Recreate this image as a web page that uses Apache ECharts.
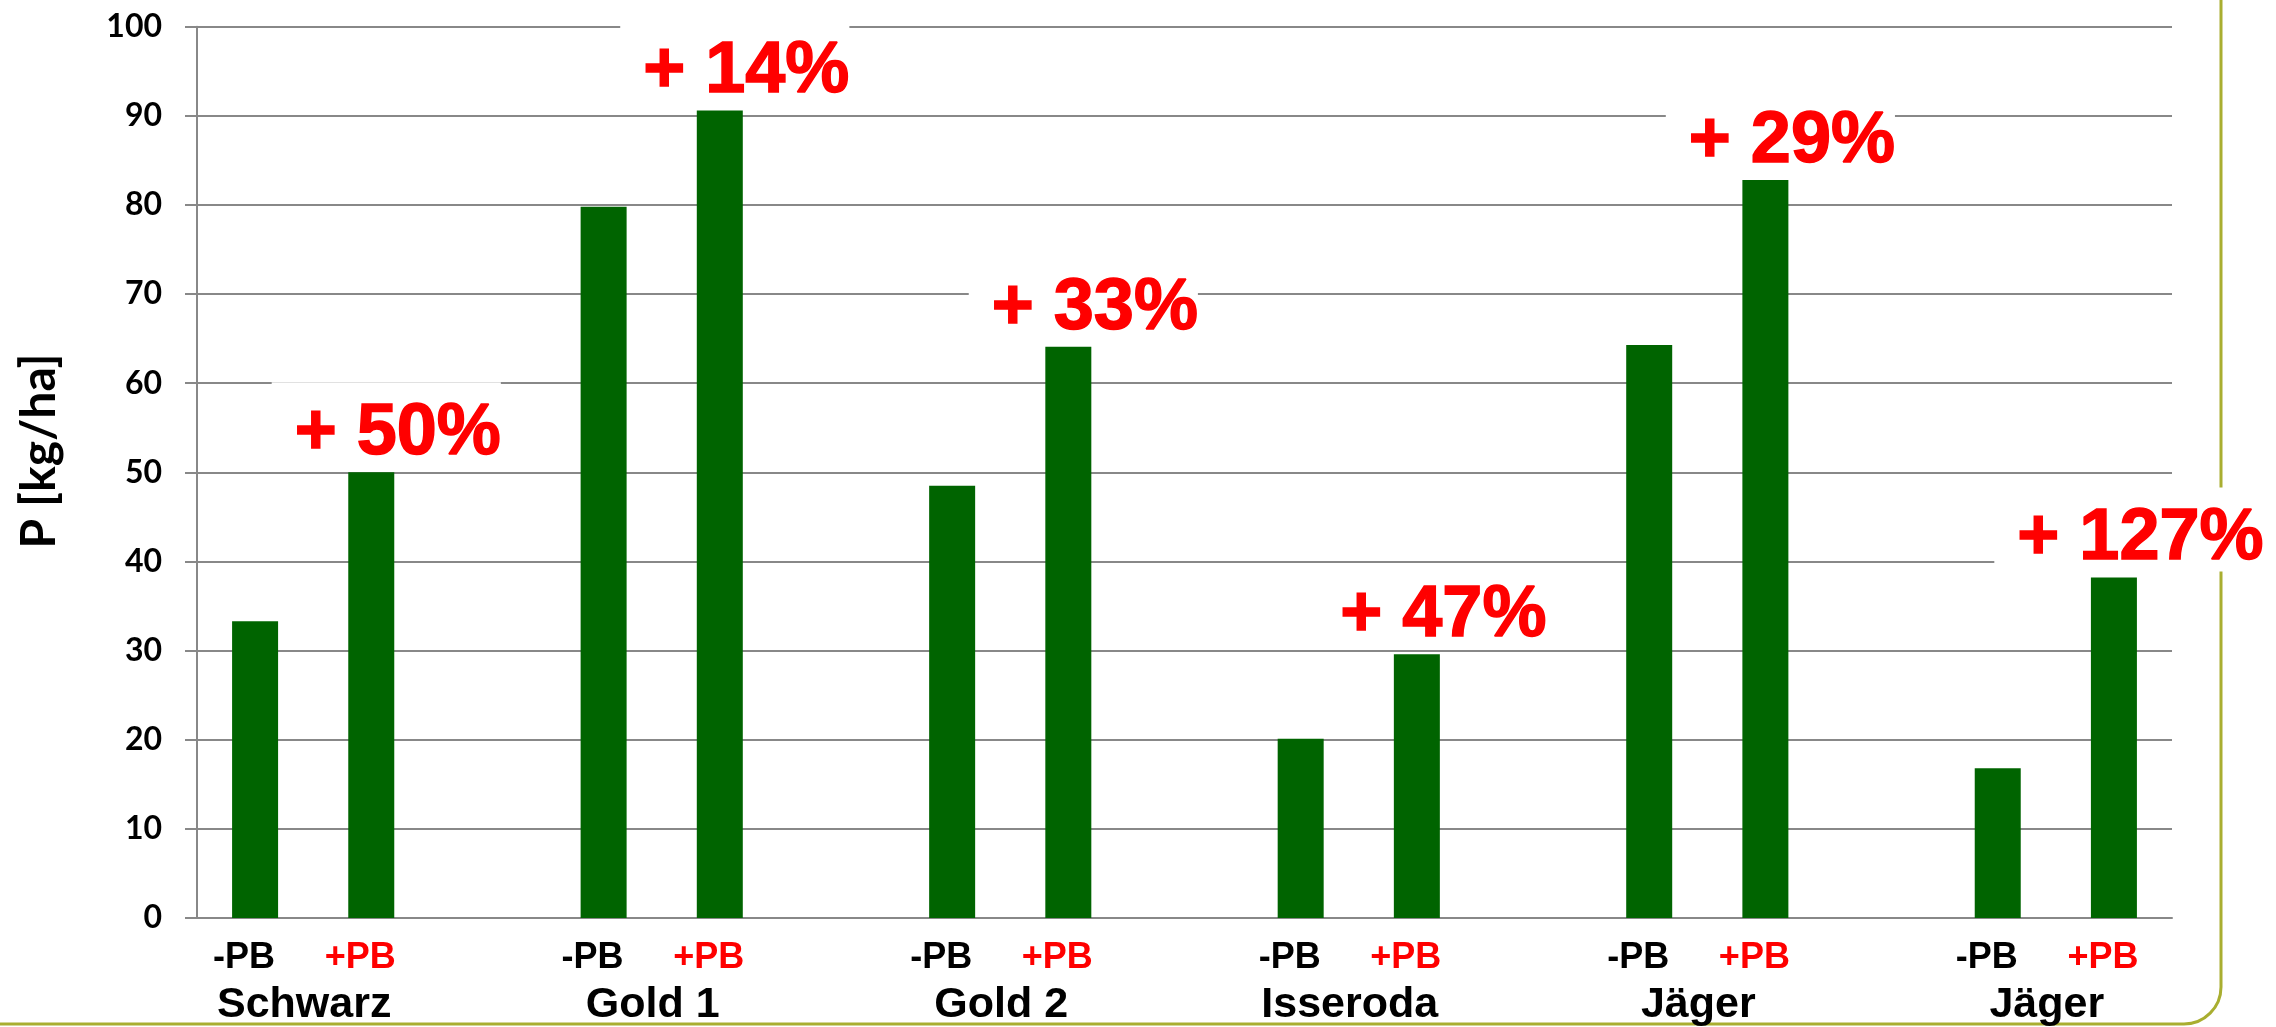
<!DOCTYPE html>
<html>
<head>
<meta charset="utf-8">
<script src="https://cdn.jsdelivr.net/npm/echarts@6/dist/echarts.min.js"></script>
<style>
  html, body { margin: 0; padding: 0; background: #ffffff; }
  #chart { width: 2276px; height: 1027px; }
</style>
</head>
<body>
<div id="chart"></div>
<script>
// Phosphor uptake (P, kg/ha) per variety, without (-PB) and with (+PB) treatment
const groups = ['Schwarz', 'Gold 1', 'Gold 2', 'Isseroda', 'Jäger', 'Jäger'];
const withoutPB = [33.3, 79.8, 48.5, 20.1, 64.3, 16.8];
const withPB = [50.0, 90.6, 64.1, 29.6, 82.8, 38.2];
const gainLabels = ['+ 50%', '+ 14%', '+ 33%', '+ 47%', '+ 29%', '+ 127%'];
const pairLabels = ['-PB', '+PB'];
const yTicks = [0, 10, 20, 30, 40, 50, 60, 70, 80, 90, 100];

// Lay the pairs out on one category axis with an empty slot between groups;
// only the treated bar carries the gain label
const categories = [];
const values = [];
groups.forEach((g, i) => {
  if (i > 0) { categories.push(''); values.push('-'); }
  categories.push(pairLabels[0]);
  values.push({ value: withoutPB[i], label: { show: false } });
  categories.push(pairLabels[1]);
  values.push({ value: withPB[i], gain: gainLabels[i] });
});
const slotCount = categories.length;

const chart = echarts.init(document.getElementById('chart'), null, { renderer: 'canvas' });

const option = {
  backgroundColor: '#ffffff',
  animation: false,
  grid: { left: 197, right: 104, top: 26.7, bottom: 107, containLabel: false },
  xAxis: [
    {
      type: 'category',
      data: categories,
      axisLine: { show: true, lineStyle: { color: '#888888', width: 2 } },
      axisTick: { show: false },
      splitLine: { show: false },
      axisLabel: {
        interval: 0,
        margin: 22,
        formatter: v => v === pairLabels[1] ? '{plus|' + v + '}' : (v ? '{minus|' + v + '}' : ''),
        rich: {
          minus: { fontFamily: 'Liberation Sans', fontWeight: 'bold', fontSize: 36, color: '#000000', padding: [0, 22, 0, 0] },
          plus: { fontFamily: 'Liberation Sans', fontWeight: 'bold', fontSize: 36, color: '#ff0000', padding: [0, 22, 0, 0] }
        }
      }
    },
    {
      // group names sit centred between each pair of bars
      type: 'value',
      position: 'bottom',
      min: 0,
      max: slotCount,
      interval: 1,
      axisLine: { show: false },
      axisTick: { show: false },
      splitLine: { show: false },
      axisLabel: {
        margin: 66,
        showMinLabel: true,
        showMaxLabel: true,
        formatter: v => ((v - 1) % 3 === 0 && v >= 1) ? '{g|' + groups[(v - 1) / 3] + '}' : '',
        rich: {
          g: { fontFamily: 'Liberation Sans', fontWeight: 'bold', fontSize: 43, color: '#000000', padding: [0, 18, 0, 0] }
        }
      }
    }
  ],
  yAxis: {
    type: 'value',
    min: yTicks[0],
    max: yTicks[yTicks.length - 1],
    interval: 10,
    axisLine: { show: true, lineStyle: { color: '#888888', width: 2 } },
    axisTick: { show: true, inside: false, length: 12, lineStyle: { color: '#888888', width: 2 } },
    splitLine: { show: true, lineStyle: { color: '#888888', width: 2 } },
    axisLabel: {
      margin: 35,
      fontFamily: 'Lato',
      fontWeight: 'bold',
      fontSize: 32,
      color: '#000000'
    }
  },
  series: [
    {
      type: 'bar',
      xAxisIndex: 0,
      data: values,
      barWidth: 46,
      itemStyle: { color: '#006400' },
      label: {
        show: true,
        position: 'top',
        distance: 6,
        offset: [15, 0],
        formatter: p => p.data.gain || '',
        fontFamily: 'Liberation Sans',
        fontWeight: 'bold',
        fontSize: 72,
        lineHeight: 64,
        color: '#ff0000',
        textBorderColor: '#ff0000',
        textBorderWidth: 1.5,
        backgroundColor: '#ffffff',
        padding: [20, 0, 0, 23]
      }
    }
  ],
  graphic: [
    {
      type: 'rect',
      z: -10,
      silent: true,
      shape: { x: -20, y: -20, width: 2241, height: 1044, r: [0, 0, 37, 0] },
      style: { fill: null, stroke: '#a9ae30', lineWidth: 3 }
    },
    {
      type: 'text',
      x: 40,
      y: 451,
      rotation: Math.PI / 2,
      style: {
        text: 'P [kg/ha]',
        fontFamily: 'Lato',
        fontWeight: 'bold',
        fontSize: 48,
        fill: '#000000',
        textAlign: 'center',
        textVerticalAlign: 'middle'
      }
    }
  ]
};

chart.setOption(option);
</script>
</body>
</html>
